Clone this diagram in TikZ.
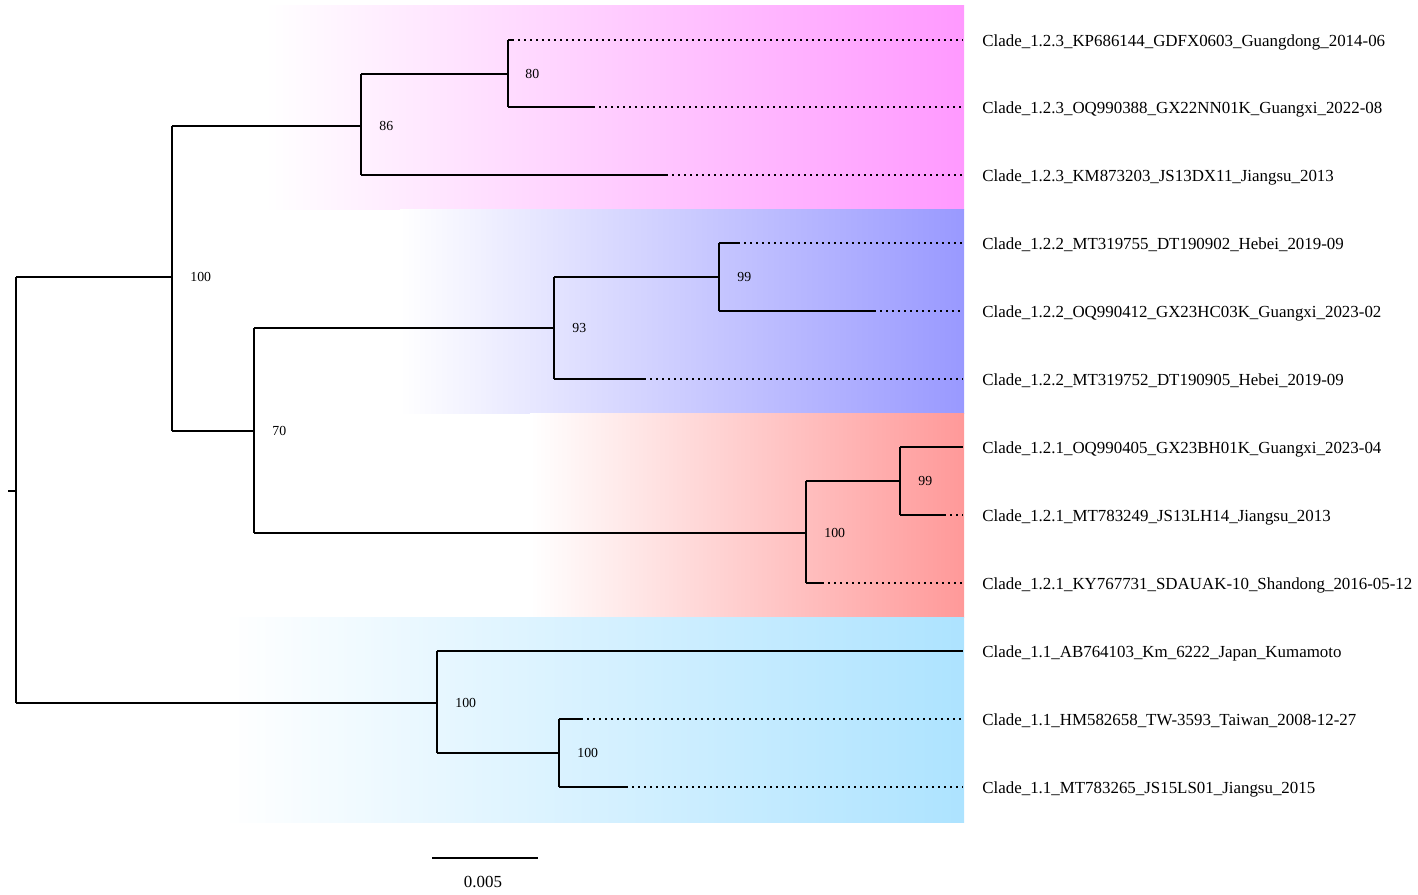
\documentclass[tikz,border=0pt]{standalone}
\usepackage{fontspec}
\setmainfont{Liberation Serif}
\usetikzlibrary{calc}
\definecolor{cpink}{HTML}{FF99FF}
\definecolor{cblue}{HTML}{9999FF}
\definecolor{cred}{HTML}{FF9999}
\definecolor{ccyan}{HTML}{ADE3FF}
\begin{document}
\begin{tikzpicture}[x=0.5pt,y=-0.5pt,
  br/.style={line width=0.75pt, black},
  dotline/.style={line width=0.75pt, black, dash pattern=on 1pt off 2pt},
  lab/.style={anchor=west, inner sep=0pt, font=\fontsize{8.45}{9}\selectfont},
  supp/.style={anchor=west, inner sep=0pt, font=\fontsize{6.9}{8}\selectfont}]
\useasboundingbox (0,0) rectangle (1418,894);
% clade bands
\shade[left color=white, right color=cpink] (265,5) rectangle (964,209);
\shade[left color=white, right color=cblue] (400,209) rectangle (964,413);
\shade[left color=white, right color=cred] (530,413) rectangle (964,617);
\shade[left color=white, right color=ccyan] (225,617) rectangle (964,822);
% internal node coordinates
\coordinate (r0) at (8,491);
\coordinate (r) at (16,491);
\coordinate (A) at (172,277);
\coordinate (B) at (361,126);
\coordinate (C) at (508,74);
\coordinate (D) at (254,431);
\coordinate (E) at (554,328);
\coordinate (F) at (719,277);
\coordinate (G) at (806,533);
\coordinate (H) at (900,481);
\coordinate (I) at (437,703);
\coordinate (J) at (559,753);
% tip ends of solid branches
\coordinate (t1) at (512,40);
\coordinate (t2) at (593,107);
\coordinate (t3) at (666,175);
\coordinate (t4) at (738,243);
\coordinate (t5) at (874,311);
\coordinate (t6) at (644,379);
\coordinate (t7) at (963,447);
\coordinate (t8) at (944,515);
\coordinate (t9) at (822,583);
\coordinate (t10) at (963,651);
\coordinate (t11) at (581,719);
\coordinate (t12) at (626,787);
% label anchors
\foreach \i/\y in {1/40,2/107,3/175,4/243,5/311,6/379,7/447,8/515,9/583,10/651,11/719,12/787}
  \coordinate (e\i) at (963,\y);
% root
\draw[br] (r0) -- (r);
\draw[br] (A -| r) -- (I -| r);
\draw[br] (A -| r) -- (A);
\draw[br] (I -| r) -- (I);
% node A
\draw[br] (B -| A) -- (D -| A);
\draw[br] (B -| A) -- (B);
\draw[br] (D -| A) -- (D);
% node B
\draw[br] (C -| B) -- (t3 -| B);
\draw[br] (C -| B) -- (C);
\draw[br] (t3 -| B) -- (t3);
% node C
\draw[br] (t1 -| C) -- (t2 -| C);
\draw[br] (t1 -| C) -- (t1);
\draw[br] (t2 -| C) -- (t2);
% node D
\draw[br] (E -| D) -- (G -| D);
\draw[br] (E -| D) -- (E);
\draw[br] (G -| D) -- (G);
% node E
\draw[br] (F -| E) -- (t6 -| E);
\draw[br] (F -| E) -- (F);
\draw[br] (t6 -| E) -- (t6);
% node F
\draw[br] (t4 -| F) -- (t5 -| F);
\draw[br] (t4 -| F) -- (t4);
\draw[br] (t5 -| F) -- (t5);
% node G
\draw[br] (H -| G) -- (t9 -| G);
\draw[br] (H -| G) -- (H);
\draw[br] (t9 -| G) -- (t9);
% node H
\draw[br] (t7 -| H) -- (t8 -| H);
\draw[br] (t7 -| H) -- (t7);
\draw[br] (t8 -| H) -- (t8);
% node I
\draw[br] (t10 -| I) -- (J -| I);
\draw[br] (t10 -| I) -- (t10);
\draw[br] (J -| I) -- (J);
% node J
\draw[br] (t11 -| J) -- (t12 -| J);
\draw[br] (t11 -| J) -- (t11);
\draw[br] (t12 -| J) -- (t12);
% dotted extensions
\foreach \i in {1,2,3,4,5,6,8,9,11,12}
  \draw[dotline] (t\i) -- (e\i);
% support values
\node[supp] (sA) at ($(A)+(18,0)$) {100};
\node[supp] (sB) at ($(B)+(18,0)$) {86};
\node[supp] (sC) at ($(C)+(17,0)$) {80};
\node[supp] (sD) at ($(D)+(18,0)$) {70};
\node[supp] (sE) at ($(E)+(18,0)$) {93};
\node[supp] (sF) at ($(F)+(18,0)$) {99};
\node[supp] (sG) at ($(G)+(18,0)$) {100};
\node[supp] (sH) at ($(H)+(18,0)$) {99};
\node[supp] (sI) at ($(I)+(18,0)$) {100};
\node[supp] (sJ) at ($(J)+(18,0)$) {100};
% tip labels
\node[lab] (l1) at ($(e1)+(19,2)$) {Clade\_1.2.3\_KP686144\_GDFX0603\_Guangdong\_2014-06};
\node[lab] (l2) at ($(e2)+(19,2)$) {Clade\_1.2.3\_OQ990388\_GX22NN01K\_Guangxi\_2022-08};
\node[lab] (l3) at ($(e3)+(19,2)$) {Clade\_1.2.3\_KM873203\_JS13DX11\_Jiangsu\_2013};
\node[lab] (l4) at ($(e4)+(19,2)$) {Clade\_1.2.2\_MT319755\_DT190902\_Hebei\_2019-09};
\node[lab] (l5) at ($(e5)+(19,2)$) {Clade\_1.2.2\_OQ990412\_GX23HC03K\_Guangxi\_2023-02};
\node[lab] (l6) at ($(e6)+(19,2)$) {Clade\_1.2.2\_MT319752\_DT190905\_Hebei\_2019-09};
\node[lab] (l7) at ($(e7)+(19,2)$) {Clade\_1.2.1\_OQ990405\_GX23BH01K\_Guangxi\_2023-04};
\node[lab] (l8) at ($(e8)+(19,2)$) {Clade\_1.2.1\_MT783249\_JS13LH14\_Jiangsu\_2013};
\node[lab] (l9) at ($(e9)+(19,2)$) {Clade\_1.2.1\_KY767731\_SDAUAK-10\_Shandong\_2016-05-12};
\node[lab] (l10) at ($(e10)+(19,2)$) {Clade\_1.1\_AB764103\_Km\_6222\_Japan\_Kumamoto};
\node[lab] (l11) at ($(e11)+(19,2)$) {Clade\_1.1\_HM582658\_TW-3593\_Taiwan\_2008-12-27};
\node[lab] (l12) at ($(e12)+(19,2)$) {Clade\_1.1\_MT783265\_JS15LS01\_Jiangsu\_2015};
% scale bar
\coordinate (s1) at (432,858);
\coordinate (s2) at (538,858);
\draw[br] (s1) -- (s2);
\node[inner sep=0pt, font=\fontsize{8.45}{9}\selectfont] (sl) at (483,882) {0.005};
\end{tikzpicture}
\end{document}
